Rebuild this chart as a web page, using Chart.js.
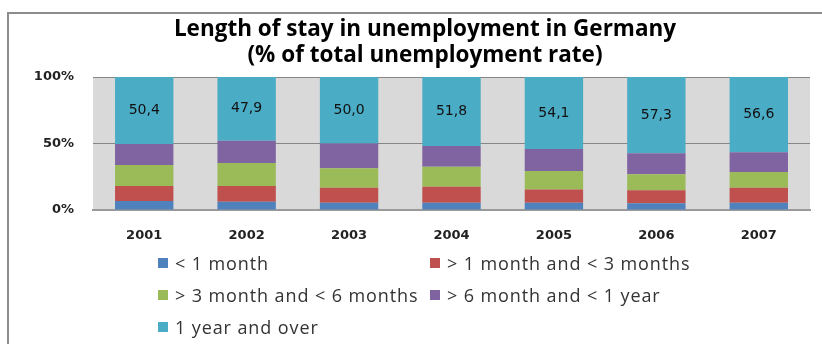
<!DOCTYPE html>
<html>
<head>
<meta charset="utf-8">
<script src="https://cdn.jsdelivr.net/npm/chart.js@4.4.1/dist/chart.umd.min.js"></script>
<style>
  body { margin: 0; overflow: hidden; background: #fff; }
  #wrap { position: relative; width: 822px; height: 344px; overflow: hidden; }
  #frame { position: absolute; left: 7px; top: 12px; width: 900px; height: 400px;
           border-left: 2px solid #8c8c8c; border-top: 2px solid #8c8c8c; }
  #chart { position: absolute; left: 0; top: 0; }
  .key { position: absolute; font: 18px 'Open Sans', sans-serif; letter-spacing: 0.9px; color: #333;
         white-space: nowrap; line-height: 20px; }
  .key i { position: absolute; left: -17px; top: 5px; width: 10px; height: 10px; }
</style>
</head>
<body>
<div id="wrap">
  <div id="frame"></div>
  <canvas id="chart" width="822" height="344"></canvas>
  <div id="legend"></div>
</div>
<script>
let years = ["2001", "2002", "2003", "2004", "2005", "2006", "2007"];

// shares of total unemployment, %
let underOneMonth  = [6.8, 6.2, 5.5, 5.5, 5.5, 5.0, 5.5];
let oneToThree     = [11.2, 11.8, 11.3, 12.0, 10.0, 9.8, 11.3];
let threeToSix     = [15.8, 17.3, 14.5, 15.1, 13.8, 12.0, 11.8];
let sixToTwelve    = [15.8, 16.8, 18.7, 15.6, 16.6, 15.9, 14.8];
let yearAndOver    = [50.4, 47.9, 50.0, 51.8, 54.1, 57.3, 56.6];

let seriesNames = ["< 1 month", "> 1 month and < 3 months", "> 3 month and < 6 months",
                   "> 6 month and < 1 year", "1 year and over"];
let seriesColors = ["#4f81bd", "#c0504d", "#9bbb59", "#8064a2", "#4bacc6"];
let seriesData = [underOneMonth, oneToThree, threeToSix, sixToTwelve, yearAndOver];

let titleLines = ["Length of stay in unemployment in Germany", "(% of total unemployment rate)"];

// legend grid: two columns, three rows
let keySlots = [[175, 253], [447, 253], [175, 285], [447, 285], [175, 317]];

// gray plot background
const plotBg = {
  id: "plotBg",
  beforeDraw(chart) {
    let a = chart.chartArea, ctx = chart.ctx;
    ctx.save();
    ctx.fillStyle = "#d9d9d9";
    ctx.fillRect(a.left, a.top, a.right - a.left, a.bottom - a.top);
    ctx.restore();
  }
};

// two-line heading, sits a little right of the canvas centre
const heading = {
  id: "heading",
  afterDraw(chart) {
    let ctx = chart.ctx;
    ctx.save();
    ctx.font = "bold 22.5px 'Open Sans', sans-serif";
    ctx.fillStyle = "#000";
    ctx.textAlign = "center";
    ctx.textBaseline = "middle";
    titleLines.forEach((line, i) => ctx.fillText(line, 425, 30 + i * 26));
    ctx.restore();
  }
};

// value labels inside the top segment
const topLabels = {
  id: "topLabels",
  afterDatasetsDraw(chart) {
    let ctx = chart.ctx;
    let last = chart.data.datasets.length - 1;
    let meta = chart.getDatasetMeta(last);
    ctx.save();
    ctx.font = "14px 'DejaVu Sans', sans-serif";
    ctx.fillStyle = "#111";
    ctx.textAlign = "center";
    ctx.textBaseline = "middle";
    meta.data.forEach((bar, i) => {
      let v = chart.data.datasets[last].data[i];
      ctx.fillText(v.toFixed(1).replace(".", ","), bar.x, (bar.y + bar.base) / 2);
    });
    ctx.restore();
  }
};

let datasets = seriesData.map((d, i) => ({
  label: seriesNames[i],
  data: d,
  backgroundColor: seriesColors[i],
  borderWidth: 0,
  categoryPercentage: 1,
  barPercentage: 0.57
}));

new Chart(document.getElementById("chart"), {
  type: "bar",
  data: { labels: years, datasets: datasets },
  options: {
    responsive: false,
    animation: false,
    layout: { padding: { left: 0, right: 12, top: 77, bottom: 0 } },
    plugins: {
      legend: { display: false },
      tooltip: { enabled: false },
      title: { display: false }
    },
    scales: {
      x: {
        stacked: true,
        grid: { display: false },
        border: { display: true, color: "#9a9a9a", width: 2 },
        ticks: { color: "#222", font: { family: "'DejaVu Sans', sans-serif", size: 13, weight: "bold" }, padding: 10 },
        afterFit(scale) { scale.height = 134; }
      },
      y: {
        stacked: true,
        min: 0,
        max: 100,
        grid: { color: "#868686", drawTicks: false },
        border: { display: false },
        ticks: {
          stepSize: 50,
          padding: 19,
          color: "#222",
          font: { family: "'DejaVu Sans', sans-serif", size: 13, weight: "bold" },
          callback: v => v + "%"
        },
        afterFit(scale) { scale.width = 93; }
      }
    }
  },
  plugins: [plotBg, topLabels, heading]
});

// legend in two columns
let legend = document.getElementById("legend");
seriesNames.forEach((name, i) => {
  let el = document.createElement("div");
  el.className = "key";
  el.style.left = keySlots[i][0] + "px";
  el.style.top = keySlots[i][1] + "px";
  el.innerHTML = '<i style="background:' + seriesColors[i] + '"></i>';
  el.appendChild(document.createTextNode(name));
  legend.appendChild(el);
});
</script>
</body>
</html>
